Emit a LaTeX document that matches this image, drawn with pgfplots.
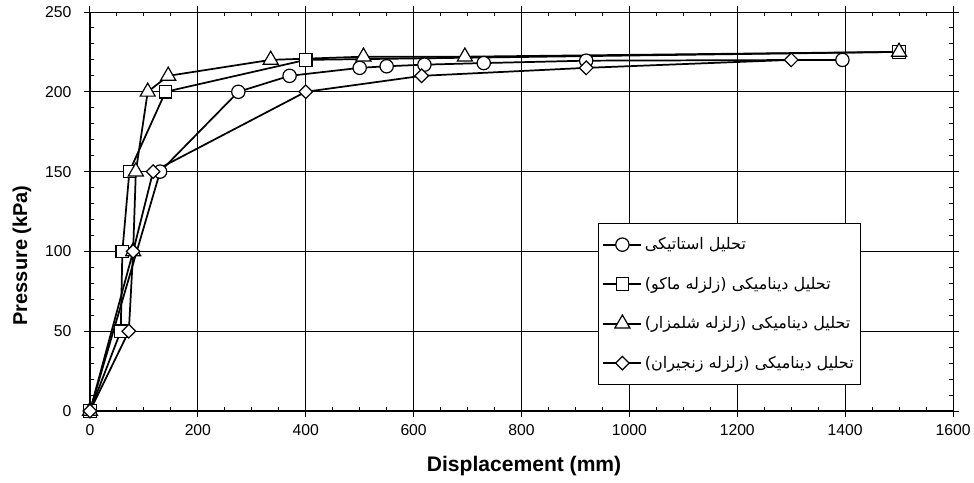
\documentclass[border=0pt]{standalone}
\usepackage{fontspec}
\usepackage{pgfplots}
\pgfplotsset{compat=1.18}
\setmainfont{Liberation Sans}
\newfontfamily\fa[Script=Arabic]{DejaVu Sans}
\TeXXeTstate=1

\begin{document}
\begin{tikzpicture}
  \begin{axis}[
    scale only axis,
    width=647.25pt,
    height=299.25pt,
    xmin=0, xmax=1600,
    ymin=0, ymax=250,
    xtick distance=200,
    ytick distance=50,
    minor x tick num=3,
    minor y tick num=4,
    grid=major,
    major grid style={black, line width=0.75pt},
    axis line style={black, line width=0.75pt},
    tick align=outside,
    major tick length=4.5pt,
    minor tick length=-3pt,
    every tick/.style={black, line width=0.75pt},
    /pgf/number format/assume math mode=true,
    /pgf/number format/1000 sep={},
    tick label style={font=\fontsize{11.8}{13}\selectfont},
    xticklabel style={yshift=-2pt},
    yticklabel style={xshift=-6pt},
    xlabel={Displacement (mm)},
    ylabel={Pressure (kPa)},
    xlabel style={font=\bfseries\fontsize{15.8}{18}\selectfont,
      at={(axis description cs:0.503,-0.137)}, anchor=center},
    ylabel style={font=\bfseries\fontsize{15}{17}\selectfont,
      at={(axis description cs:-0.0788,0.39)}, anchor=center},
    legend cell align=left,
    legend style={
      at={(0.5887,0.471)}, anchor=north west,
      draw=black, line width=0.75pt, fill=white,
      font=\fontsize{12}{14}\selectfont,
      row sep=15pt, inner ysep=8.5pt, inner xsep=3pt,
    },
    legend image code/.code={
      \draw[mark repeat=2, mark phase=2, #1]
        plot coordinates {(0cm,0cm) (0.5cm,0cm) (1cm,0cm)};
    },
    every axis plot/.append style={black, line width=1.3pt,
      mark options={fill=white, line width=0.9pt, solid}},
  ]

  % static
  \addplot[mark=*, mark size=5pt] coordinates {
    (0,0) (130,150) (275,200) (370,210) (500,215) (550,216)
    (620,217) (730,218) (920,219.5) (1395,220)
  };
  \addlegendentry{\fa\beginR تحلیل استاتیکی\endR}

  % dynamic, Maku
  \addplot[mark=square*, mark size=4.7pt] coordinates {
    (0,0) (57,50) (60,100) (73,150) (140,200) (400,220) (1500,225)
  };
  \addlegendentry{\fa\beginR تحلیل دینامیکی (زلزله ماکو)\endR}

  % dynamic, Shalmzar
  \addplot[mark=triangle*, mark size=6.5pt] coordinates {
    (0,0) (80,100) (85,150) (107,200) (145,210) (335,220)
    (507,222) (695,222) (1500,225)
  };
  \addlegendentry{\fa\beginR تحلیل دینامیکی (زلزله شلمزار)\endR}

  % dynamic, Zanjiran
  \addplot[mark=square*, mark size=3.6pt,
    mark options={fill=white, line width=0.9pt, solid, rotate=45}] coordinates {
    (0,0) (72,50) (80,100) (117,150) (400,200) (615,210)
    (920,215) (1300,220)
  };
  \addlegendentry{\fa\beginR تحلیل دینامیکی (زلزله زنجیران)\endR}

  \draw[black, line width=1.6pt]
    (rel axis cs:0,1) -- (rel axis cs:0,0) -- (rel axis cs:1,0);
  \end{axis}
  \pgfresetboundingbox
  \path[use as bounding box] (-67.5pt,-53.25pt) rectangle (663pt,308.25pt);
\end{tikzpicture}
\end{document}
